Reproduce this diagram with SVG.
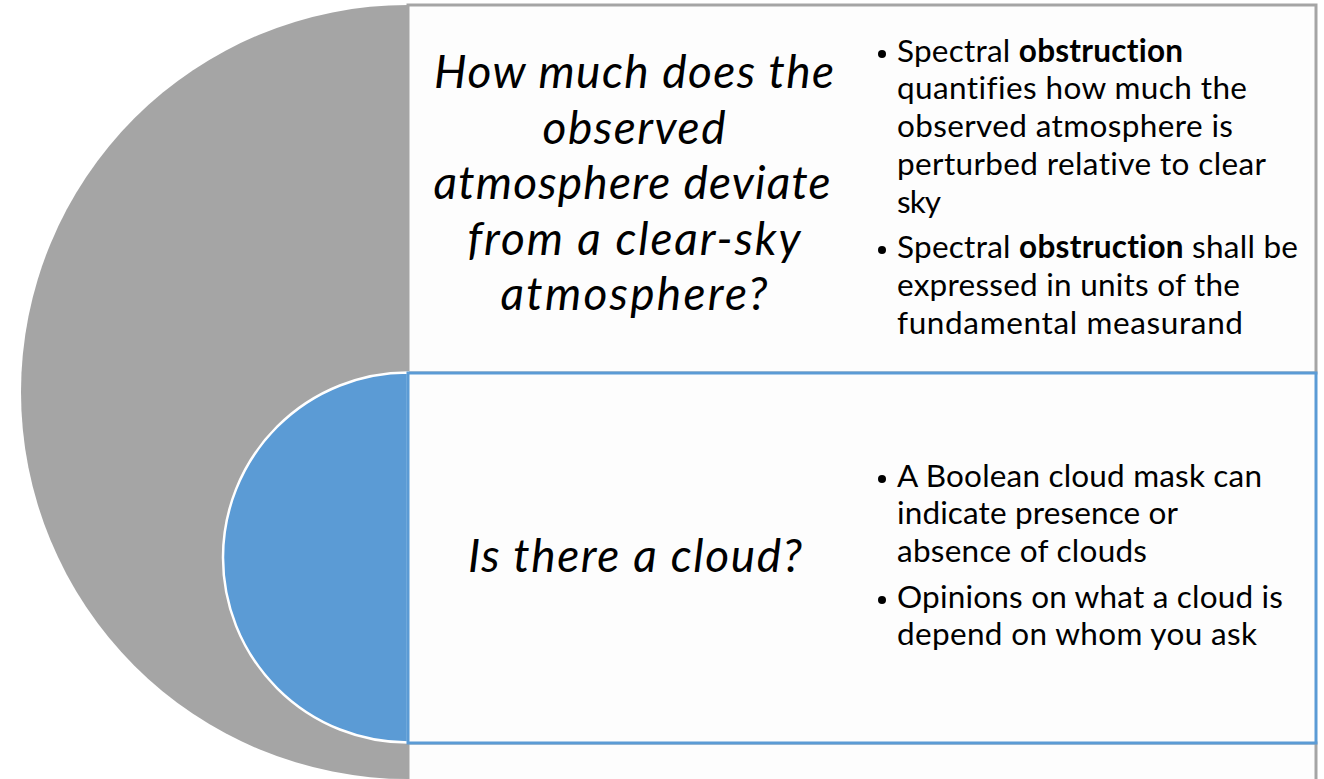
<svg xmlns="http://www.w3.org/2000/svg" width="1324" height="779" viewBox="0 0 1324 779">
  <style>
    .q { font-family: Lato, "Liberation Sans", sans-serif; font-style: italic; font-size: 46px; fill: #000; text-anchor: middle; }
    .b { font-family: Lato, "Liberation Sans", sans-serif; font-size: 31.5px; fill: #000; font-variant-ligatures: none; }
    .bold { font-weight: bold; }
    .panel { fill: #fdfdfd; stroke-width: 3; }
    .grayBox { stroke: #a5a5a5; }
    .blueBox { stroke: #5b9bd5; }
    .dot { fill: #000; }
  </style>
  <rect width="1324" height="779" fill="#ffffff"/>

  <!-- outer ring: left half of the large gray disc -->
  <g id="outer-disc">
    <path d="M408 5 A387 387 0 0 0 408 779 Z" fill="#a5a5a5"/>
  </g>

  <!-- third (cut-off) panel below -->
  <g id="panel-3">
    <rect class="panel grayBox" x="408" y="743" width="908" height="60"/>
  </g>

  <!-- top panel -->
  <g id="panel-obstruction">
    <rect class="panel grayBox" x="408" y="5" width="908" height="368"/>
    <text class="q" x="634" y="88" textLength="400">How much does the</text>
    <text class="q" x="634" y="143.5" textLength="183">observed</text>
    <text class="q" x="632" y="199" textLength="397">atmosphere deviate</text>
    <text class="q" x="634" y="254.5" textLength="333">from a clear-sky</text>
    <text class="q" x="634" y="310" textLength="267">atmosphere?</text>

    <circle class="dot" cx="882" cy="54" r="4"/>
    <text class="b" x="897" y="62" textLength="286">Spectral <tspan class="bold">obstruction</tspan></text>
    <text class="b" x="897" y="99" textLength="350">quantifies how much the</text>
    <text class="b" x="897" y="137" textLength="336">observed atmosphere is</text>
    <text class="b" x="897" y="175" textLength="369">perturbed relative to clear</text>
    <text class="b" x="897" y="213" textLength="44">sky</text>
    <circle class="dot" cx="882" cy="250" r="4"/>
    <text class="b" x="897" y="258" textLength="401">Spectral <tspan class="bold">obstruction</tspan> shall be</text>
    <text class="b" x="897" y="296" textLength="343">expressed in units of the</text>
    <text class="b" x="897" y="334" textLength="346">fundamental measurand</text>
  </g>

  <!-- inner blue half disc -->
  <g id="inner-disc">
    <path d="M408 372.5 A185 185 0 0 0 408 742.5 Z" fill="#5b9bd5" stroke="#ffffff" stroke-width="2.5"/>
  </g>

  <!-- bottom panel -->
  <g id="panel-cloud">
    <rect class="panel blueBox" x="408" y="373" width="908" height="370" fill-opacity="0.96"/>
    <text class="q" x="635" y="572" textLength="334">Is there a cloud?</text>

    <circle class="dot" cx="882" cy="479" r="4"/>
    <text class="b" x="897" y="487" textLength="365">A Boolean cloud mask can</text>
    <text class="b" x="897" y="524" textLength="281">indicate presence or</text>
    <text class="b" x="897" y="562" textLength="250">absence of clouds</text>
    <circle class="dot" cx="882" cy="600" r="4"/>
    <text class="b" x="897" y="608" textLength="386">Opinions on what a cloud is</text>
    <text class="b" x="897" y="645" textLength="360">depend on whom you ask</text>
  </g>

  <!-- no connectors in this layout -->
  <g id="connectors"/>
</svg>
